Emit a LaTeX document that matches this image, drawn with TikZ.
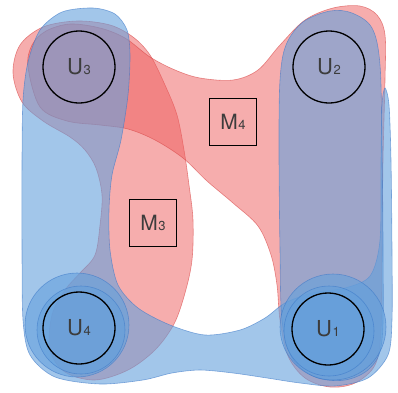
\documentclass[tikz,border=0pt]{standalone}
\usepackage{fontspec}
\setmainfont{TeX Gyre Heros}
\definecolor{blueF}{RGB}{100,160,220}
\definecolor{blueD}{RGB}{60,120,200}
\definecolor{redF}{RGB}{238,92,92}
\definecolor{redD}{RGB}{215,70,70}
\definecolor{labelc}{RGB}{60,60,60}
\newcommand{\lbl}[3]{{\fontsize{#3}{#3}\selectfont #1}\kern0.6pt{\fontsize{13}{13}\selectfont #2}}
\begin{document}
\begin{tikzpicture}[x=1pt,y=-1pt,
  redshape/.style={fill=redF, fill opacity=0.5, draw=redD, draw opacity=0.6, line width=0.6pt},
  blueshape/.style={fill=blueF, fill opacity=0.6, draw=blueD, draw opacity=0.6, line width=0.6pt},
  unode/.style={circle, draw=black, line width=1.3pt, minimum size=72pt, inner sep=0pt, text=labelc},
  mnode/.style={rectangle, draw=black, line width=1.3pt, minimum size=47pt, inner sep=0pt, text=labelc}]
\useasboundingbox (0,0) rectangle (398,392);
% red B: U3 - M3 - U4
\path[redshape] plot[smooth cycle, tension=0.55] coordinates {
  (13,73) (20,45) (43,27) (77,21) (110,25) (133,37) (150,55) (165,85) (177,115)
  (184,150) (189,185) (193,220) (192,260) (185,293) (174,324) (155,350) (128,370)
  (95,380) (65,372) (50,350) (52,315) (65,290) (80,273) (95,255) (100,225)
  (102,195) (96,168) (85,150) (70,137) (43,121) (22,102)};
% red A: U3 - M4 - U2 - U1
\path[redshape] plot[smooth cycle, tension=0.55] coordinates {
  (28,67) (32,45) (46,31) (70,24) (100,28) (125,38) (150,57) (175,70) (200,78)
  (233,80) (258,70) (280,45) (305,20) (333,8) (360,6) (377,15) (385,35) (385,80)
  (383,160) (382,250) (381,330) (375,365) (355,383) (330,387) (305,378) (288,356)
  (280,320) (277,285) (271,255) (258,226) (233,203) (207,181) (183,158) (155,140)
  (128,129) (100,125) (67,121) (40,107)};
% blue big U: U3 - U4 - U1 - U2
\path[blueshape] plot[smooth cycle, tension=0.5] coordinates {
  (93,8) (115,14) (127,30) (130,55) (128,95) (121,140) (112,175) (109,210)
  (110,250) (118,285) (138,308) (170,325) (205,335) (240,330) (265,318) (285,303)
  (312,293) (345,288) (370,276) (380,240) (381,160) (382,105) (385,88) (389,105)
  (391,160) (392,250) (392,320) (388,355) (368,378) (335,386)
  (300,383) (267,378) (233,373) (200,370) (172,373) (143,380) (100,384) (55,377)
  (30,355) (23,320) (22,250) (22,160) (23,100) (28,62) (40,30) (62,12)};
% blue right pill: U2 - U1
\path[blueshape] plot[smooth cycle, tension=0.55] coordinates {
  (330,11) (303,22) (286,45) (280,80) (279,150) (280,250) (282,320) (292,358)
  (315,377) (345,380) (370,368) (382,340) (383,250) (382,150) (380,65) (372,28) (352,13)};
% U4 and U1 blobs
\path[blueshape] (77,325) circle[radius=52];
\path[blueshape] (81,330) circle[radius=44];
\path[blueshape] (333,327) circle[radius=53];
\path[blueshape] (329,331) circle[radius=45];
% nodes
\node[unode] (U3) at (79,67) {\lbl{U}{3}{22}};
\node[unode] (U2) at (329,67) {\lbl{U}{2}{22}};
\node[unode] (U4) at (79,328) {\lbl{U}{4}{22}};
\node[unode] (U1) at (328,329) {\lbl{U}{1}{22}};
\node[mnode] (M4) at (233,122) {\lbl{M}{4}{21}};
\node[mnode] (M3) at (153,223) {\lbl{M}{3}{21}};
\end{tikzpicture}
\end{document}
